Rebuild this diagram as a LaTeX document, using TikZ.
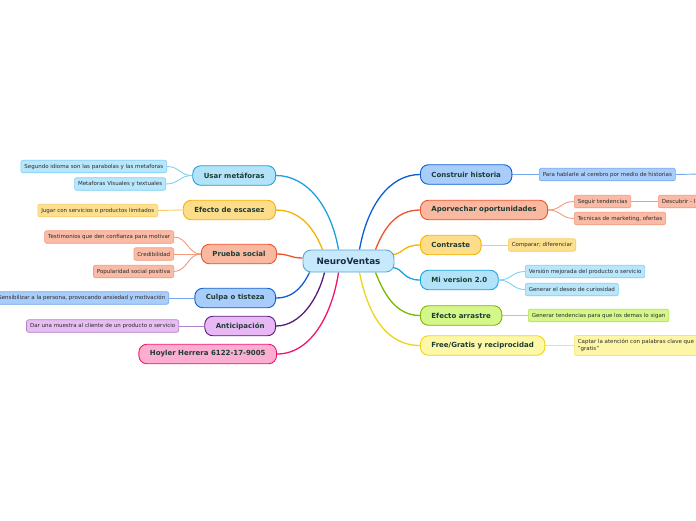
\documentclass[tikz,border=0pt]{standalone}
\usepackage{fontspec}
\setmainfont{DejaVu Sans}
\usetikzlibrary{backgrounds,calc}
\definecolor{maintext}{HTML}{1D3C34}
\definecolor{centertext}{HTML}{1A2A4A}
\definecolor{leaftext}{HTML}{2A2A2A}
\definecolor{centerF}{HTML}{C6E9FB}
\definecolor{centerD}{HTML}{5AA6D9}
\definecolor{cyanF}{HTML}{B3E3F9}
\definecolor{cyanD}{HTML}{1AA3E0}
\definecolor{cyanL}{HTML}{B8E6FB}
\definecolor{cyanLD}{HTML}{7FCFF5}
\definecolor{amberF}{HTML}{FDDC8A}
\definecolor{amberD}{HTML}{F5B400}
\definecolor{amberL}{HTML}{FDE08F}
\definecolor{amberLD}{HTML}{F8CD63}
\definecolor{salF}{HTML}{F9B8A0}
\definecolor{salD}{HTML}{F0522A}
\definecolor{salL}{HTML}{F9BBA5}
\definecolor{salLD}{HTML}{F39A7E}
\definecolor{blueF}{HTML}{A9CDFA}
\definecolor{blueD}{HTML}{0D5FD0}
\definecolor{blueL}{HTML}{A9CDFA}
\definecolor{blueLD}{HTML}{73A8EE}
\definecolor{purF}{HTML}{E8B8F5}
\definecolor{purD}{HTML}{5A1C7A}
\definecolor{purL}{HTML}{E8BDF4}
\definecolor{purLD}{HTML}{B57FCC}
\definecolor{pinkF}{HTML}{FBAED0}
\definecolor{pinkD}{HTML}{F0166E}
\definecolor{grnF}{HTML}{D5F78A}
\definecolor{grnD}{HTML}{7AB800}
\definecolor{grnL}{HTML}{D5F78A}
\definecolor{grnLD}{HTML}{B0E050}
\definecolor{yelF}{HTML}{FDF7A8}
\definecolor{yelD}{HTML}{EFD31A}
\definecolor{yelL}{HTML}{FDF6A6}
\definecolor{yelLD}{HTML}{F3E37A}
\begin{document}
\begin{tikzpicture}[x=1pt,y=-1pt,
  main/.style={draw, line width=0.9pt, rounded corners=8pt, minimum height=19.5pt,
    inner xsep=11pt, inner ysep=0pt, font=\fontsize{7}{8}\selectfont\bfseries, text=maintext},
  leaf/.style={draw, line width=0.6pt, rounded corners=2pt, minimum height=12.5pt,
    inner xsep=3.5pt, inner ysep=0pt, font=\fontsize{5.5}{6.5}\selectfont, text=leaftext},
  cyanM/.style={main, fill=cyanF, draw=cyanD},
  amberM/.style={main, fill=amberF, draw=amberD},
  salM/.style={main, fill=salF, draw=salD},
  blueM/.style={main, fill=blueF, draw=blueD},
  purM/.style={main, fill=purF, draw=purD},
  pinkM/.style={main, fill=pinkF, draw=pinkD},
  grnM/.style={main, fill=grnF, draw=grnD},
  yelM/.style={main, fill=yelF, draw=yelD},
  cyanLf/.style={leaf, fill=cyanL, draw=cyanLD},
  amberLf/.style={leaf, fill=amberL, draw=amberLD},
  salLf/.style={leaf, fill=salL, draw=salLD},
  blueLf/.style={leaf, fill=blueL, draw=blueLD},
  purLf/.style={leaf, fill=purL, draw=purLD},
  grnLf/.style={leaf, fill=grnL, draw=grnLD},
  yelLf/.style={leaf, fill=yelL, draw=yelLD},
  br/.style={line width=1.3pt},
  lk/.style={line width=0.9pt}]
\useasboundingbox (0,0) rectangle (696,520);

% center
\node[draw=centerD, fill=centerF, line width=0.9pt, rounded corners=8pt, minimum width=91pt,
  minimum height=22pt, font=\fontsize{8.8}{10}\selectfont\bfseries, text=centertext] (c) at (348.5,261) {NeuroVentas};

% left main
\node[cyanM, anchor=east] (um) at (276,175.5) {Usar metáforas};
\node[amberM, anchor=east] (ee) at (276,210) {Efecto de escasez};
\node[salM, anchor=east] (ps) at (277,254) {Prueba social};
\node[blueM, anchor=east] (ct) at (276,298) {Culpa o tisteza};
\node[purM, anchor=east] (an) at (276,326) {Anticipación};
\node[pinkM, anchor=east] (hh) at (277,354) {Hoyler Herrera 6122-17-9005};

% right main
\node[blueM, anchor=west] (ch) at (420,174.5) {Construir historia};
\node[salM, anchor=west] (ao) at (420,210) {Aporvechar oportunidades};
\node[amberM, anchor=west] (co) at (420,245) {Contraste};
\node[cyanM, anchor=west] (mv) at (420,280) {Mi version 2.0};
\node[grnM, anchor=west] (ea) at (420,315.5) {Efecto arrastre};
\node[yelM, anchor=west] (fg) at (420,345.5) {Free/Gratis y reciprocidad};

% left leaves
\node[cyanLf, anchor=east] (l1) at (167,166.5) {Segundo idioma son las parabolas y las metaforas};
\node[cyanLf, anchor=east] (l2) at (166,184) {Metaforas Visuales y textuales};
\node[amberLf, anchor=east] (l3) at (158,210.5) {Jugar con servicios o productos limitados};
\node[salLf, anchor=east] (l4) at (174,237) {Testimonios que den confianza para motivar};
\node[salLf, anchor=east] (l5) at (174,254) {Credibilidad};
\node[salLf, anchor=east] (l6) at (174,271.5) {Popularidad social positiva};
\node[blueLf, anchor=east] (l7) at (169,298) {Sensibilizar a la persona, provocando ansiedad y motivación};
\node[purLf, anchor=east] (l8) at (179,326) {Dar una muestra al cliente de un producto o servicio};

% right leaves
\node[blueLf, anchor=west] (r1) at (539,174.5) {Para hablarle al cerebro por medio de historias};
\coordinate (r1e) at (700,174);
\node[salLf, anchor=west] (r2) at (574,201.5) {Seguir tendencias};
\node[salLf, anchor=west, text width=55pt, align=left] (r2b) at (658,201.5) {Descubrir - I};
\node[salLf, anchor=west] (r3) at (574,218.5) {Tecnicas de marketing, ofertas};
\node[amberLf, anchor=west] (r4) at (508,245) {Comparar; diferenciar};
\node[cyanLf, anchor=west] (r5) at (525,271.5) {Versión mejorada del producto o servicio};
\node[cyanLf, anchor=west] (r6) at (525,289.5) {Generar el deseo de curiosidad};
\node[grnLf, anchor=west] (r7) at (528,315.5) {Generar tendencias para que los demas lo sigan};
\node[yelLf, anchor=west, minimum height=20pt, align=left] (r8) at (574,345.5) {Captar la atención con palabras clave que\\"gratis"\hspace*{112pt}};

\begin{scope}[on background layer]
\fill[white] (0,0) rectangle (696,520);
% branches left
\draw[br, draw=cyanD] (um.east) .. controls +(30,0) and +(-8,-45) .. ([xshift=-10pt]c.north);
\draw[br, draw=amberD] (ee.east) .. controls +(25,0) and +(-8,-20) .. ([xshift=-26pt]c.north);
\draw[br, draw=salD] (ps.east) .. controls +(12,0) and +(-12,0) .. ([yshift=3pt]c.west);
\draw[br, draw=blueD] (ct.east) .. controls +(20,0) and +(-5,10) .. ([xshift=7pt]c.south west);
\draw[br, draw=purD] (an.east) .. controls +(25,0) and +(-6,25) .. ([xshift=-24pt]c.south);
\draw[br, draw=pinkD] (hh.east) .. controls +(35,0) and +(-6,40) .. ([xshift=-10pt]c.south);
% branches right
\draw[br, draw=blueD] (ch.west) .. controls +(-30,0) and +(8,-45) .. ([xshift=11pt]c.north);
\draw[br, draw=salD] (ao.west) .. controls +(-25,0) and +(8,-20) .. ([xshift=27pt]c.north);
\draw[br, draw=amberD] (co.west) .. controls +(-18,0) and +(12,0) .. ([xshift=-3pt,yshift=-5pt]c.north east);
\draw[br, draw=cyanD] (mv.west) .. controls +(-18,0) and +(12,0) .. ([xshift=-3pt,yshift=5pt]c.south east);
\draw[br, draw=grnD] (ea.west) .. controls +(-25,0) and +(8,20) .. ([xshift=27pt]c.south);
\draw[br, draw=yelD] (fg.west) .. controls +(-35,0) and +(8,40) .. ([xshift=11pt]c.south);
% leaf links left
\draw[lk, draw=cyanLD] (um.west) .. controls +(-13,0) and +(13,0) .. (l1.east);
\draw[lk, draw=cyanLD] (um.west) .. controls +(-13,0) and +(13,0) .. (l2.east);
\draw[lk, draw=amberLD] (ee.west) -- (l3.east);
\draw[lk, draw=salLD] (ps.west) .. controls +(-13,0) and +(13,0) .. (l4.east);
\draw[lk, draw=salLD] (ps.west) -- (l5.east);
\draw[lk, draw=salLD] (ps.west) .. controls +(-13,0) and +(13,0) .. (l6.east);
\draw[lk, draw=blueLD] (ct.west) -- (l7.east);
\draw[lk, draw=purLD] (an.west) -- (l8.east);
% leaf links right
\draw[lk, draw=blueLD] (ch.east) -- (r1.west);
\draw[lk, draw=blueLD] (r1.east) -- (r1e);
\draw[lk, draw=salLD] (ao.east) .. controls +(13,0) and +(-13,0) .. (r2.west);
\draw[lk, draw=salLD] (ao.east) .. controls +(13,0) and +(-13,0) .. (r3.west);
\draw[lk, draw=salLD] (r2.east) -- (r2b.west);
\draw[lk, draw=amberLD] (co.east) -- (r4.west);
\draw[lk, draw=cyanLD] (mv.east) .. controls +(13,0) and +(-13,0) .. (r5.west);
\draw[lk, draw=cyanLD] (mv.east) .. controls +(13,0) and +(-13,0) .. (r6.west);
\draw[lk, draw=grnLD] (ea.east) -- (r7.west);
\draw[lk, draw=yelLD] (fg.east) -- (r8.west);
\end{scope}
\end{tikzpicture}
\end{document}
